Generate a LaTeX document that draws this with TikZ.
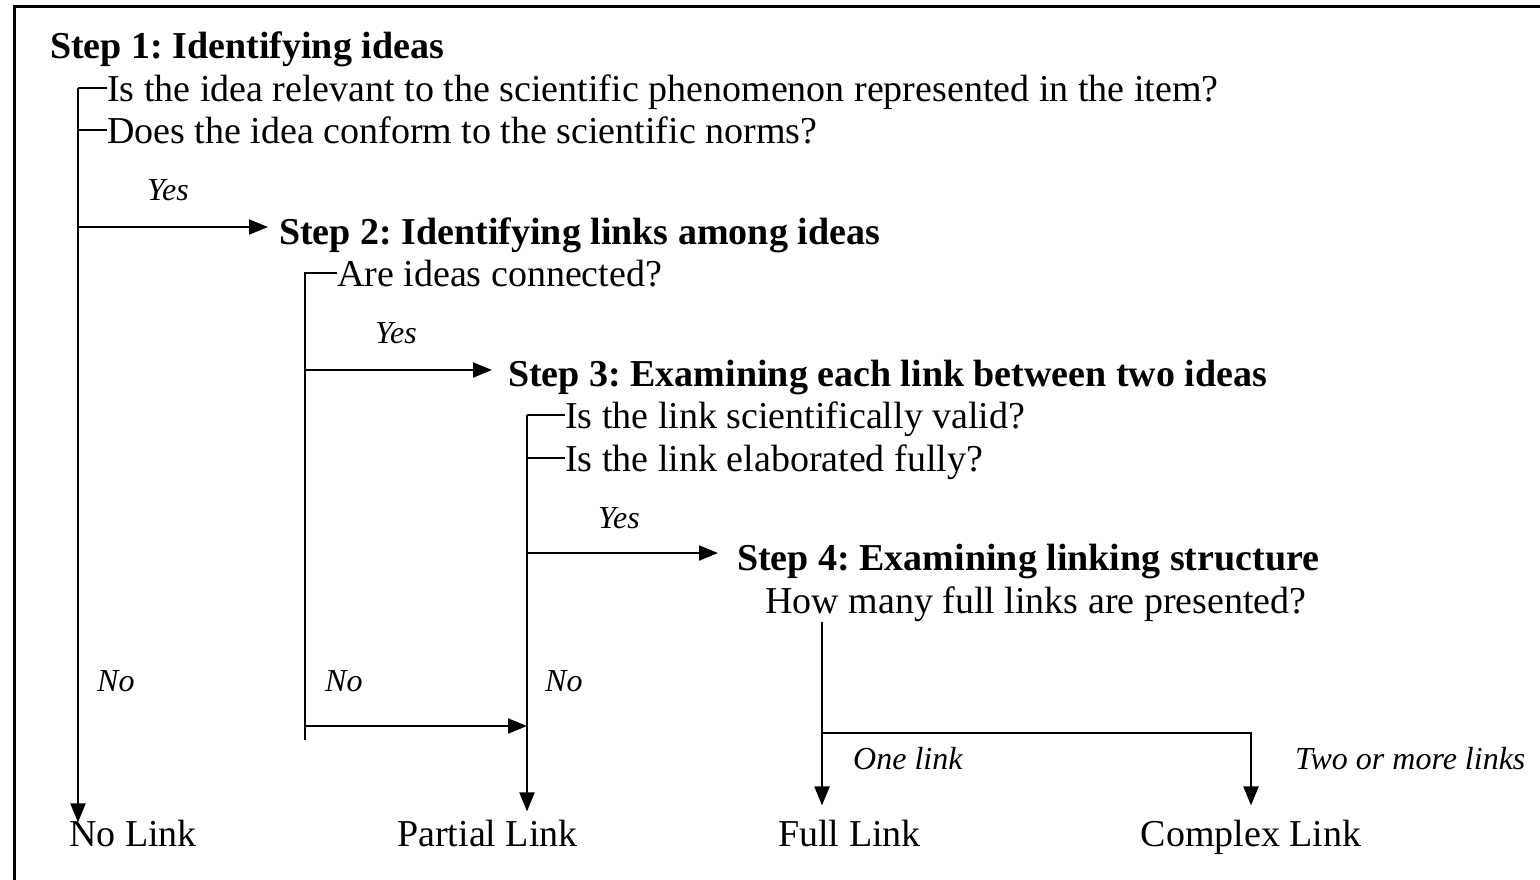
\documentclass[tikz,border=0pt]{standalone}
\usepackage{fontspec}
\setmainfont{Liberation Serif}
\usetikzlibrary{arrows.meta,calc}
\frenchspacing
\begin{document}
\begin{tikzpicture}[x=1pt,y=-1pt,
  txt/.style={anchor=base west,inner sep=0pt,font=\fontsize{38}{42}\selectfont},
  stp/.style={anchor=base west,inner sep=0pt,font=\fontsize{38}{42}\selectfont\bfseries},
  lbl/.style={anchor=base west,inner sep=0pt,font=\fontsize{32}{36}\selectfont\itshape},
  res/.style={anchor=base,inner sep=0pt,font=\fontsize{38}{42}\selectfont},
  ln/.style={line width=2pt},
  arr/.style={line width=2pt,-{Triangle[length=19pt,width=15pt]}}]
\useasboundingbox (0,0) rectangle (1540,879);
\fill[white] (0,0) rectangle (1540,879);
% frame (left and top edges visible)
\draw[line width=3pt] (14,881) -- (14,6.5) -- (1542,6.5);

% texts
\node[stp] (s1) at (50,58) {Step 1: Identifying ideas};
\node[txt] (q11) at (107,101) {Is the idea relevant to the scientific phenomenon represented in the item?};
\node[txt] (q12) at (107,143) {Does the idea conform to the scientific norms?};
\node[lbl] (y1) at (147,200) {Yes};
\node[stp] (s2) at (279,244) {Step 2: Identifying links among ideas};
\node[txt] (q21) at (337,286) {Are ideas connected?};
\node[lbl] (y2) at (375,343) {Yes};
\node[stp] (s3) at (508,386) {Step 3: Examining each link between two ideas};
\node[txt] (q31) at (565,428) {Is the link scientifically valid?};
\node[txt] (q32) at (565,471) {Is the link elaborated fully?};
\node[lbl] (y3) at (598,528) {Yes};
\node[stp] (s4) at (737,570) {Step 4: Examining linking structure};
\node[txt] (q41) at (765,613) {How many full links are presented?};
\node[lbl] (no1) at (97,691) {No};
\node[lbl] (no2) at (325,691) {No};
\node[lbl] (no3) at (545,691) {No};
\node[lbl] (one) at (853,769) {One link};
\node[lbl] (two) at (1295,769) {Two or more links};
\node[res] (nolink) at (133,846) {No Link};
\node[res] (partial) at (487.5,846) {Partial Link};
\node[res] (full) at (849.5,846) {Full Link};
\node[res] (complex) at (1251,846) {Complex Link};

% junction coordinates
\coordinate (c1) at (78,88);
\coordinate (t1) at (78,130);
\coordinate (j1) at (78,227);
\coordinate (c2) at (305,273);
\coordinate (j2) at (305,370);
\coordinate (k2) at (305,726);
\coordinate (e2) at (305,740);
\coordinate (c3) at (527,415);
\coordinate (t3) at (527,458);
\coordinate (j3) at (527,553);
\coordinate (c4) at (822,622);
\coordinate (j4) at (822,733);

% step 1
\draw[ln] (q11.west |- c1) -- (c1);
\draw[ln] (q12.west |- t1) -- (t1);
\draw[arr,shorten >=-3pt] (c1) -- (nolink.north -| c1);
\draw[arr,shorten >=11pt] (j1) -- (s2.west |- j1);
% step 2
\draw[ln] (q21.west |- c2) -- (c2) -- (e2);
\draw[arr,shorten >=16pt] (j2) -- (s3.west |- j2);
\draw[arr] (k2) -- (c3 |- k2);
% step 3
\draw[ln] (q31.west |- c3) -- (c3);
\draw[ln] (q32.west |- t3) -- (t3);
\draw[arr,shorten >=8pt] (c3) -- (partial.north -| c3);
\draw[arr,shorten >=19pt] (j3) -- (s4.west |- j3);
% step 4
\draw[arr,shorten >=14pt] (c4) -- (full.north -| c4);
\draw[arr,shorten >=14pt] (j4) -| (complex.north);
\end{tikzpicture}
\end{document}
